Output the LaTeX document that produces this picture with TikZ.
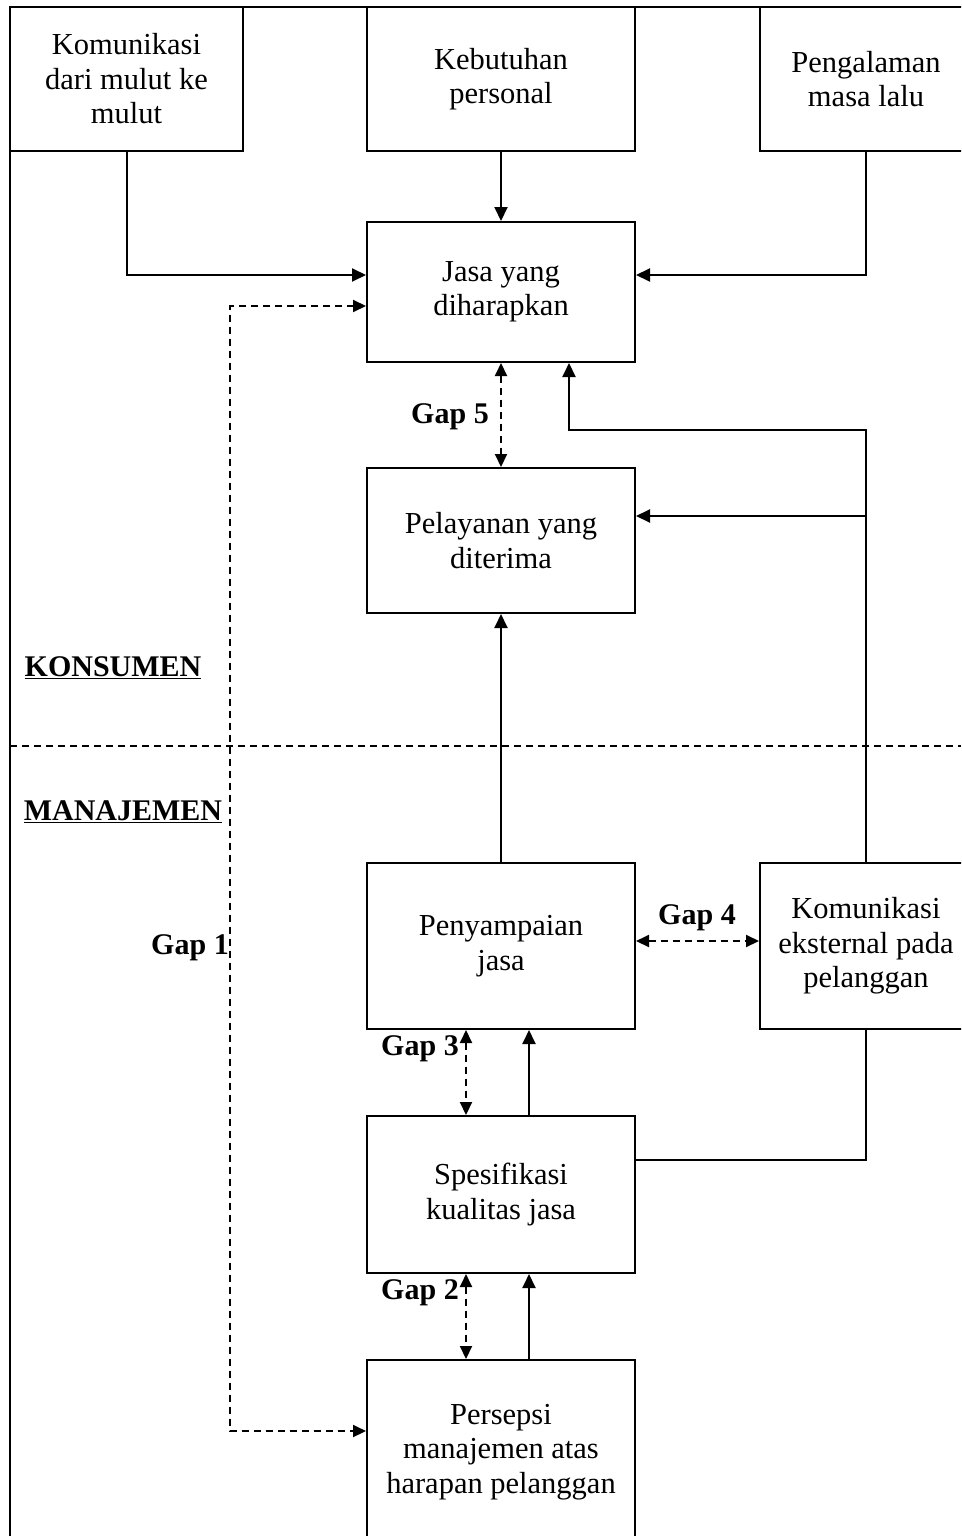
\documentclass[tikz,border=0pt]{standalone}
\usepackage{fontspec}
\setmainfont{Liberation Serif}
\usetikzlibrary{arrows.meta}
\tikzset{
  box/.style={draw, line width=2pt, rectangle, align=center, inner sep=0pt,
    font=\fontsize{30.5}{34.5}\selectfont},
  arr/.style={line width=2pt, -{Triangle[length=14pt,width=13pt]}},
  plain/.style={line width=2pt},
  darr/.style={line width=2pt, dash pattern=on 7pt off 5pt,
    {Triangle[length=13pt,width=12pt]}-{Triangle[length=13pt,width=12pt]}},
  gaplbl/.style={font=\fontsize{30}{34}\selectfont\bfseries, inner sep=0pt},
}
\begin{document}
\begin{tikzpicture}[x=1pt,y=-1pt]
\useasboundingbox (0,0) rectangle (961,1536);
\clip (0,0) rectangle (961,1536);
% frame
\draw[plain] (10,7) -- (961,7);
\draw[plain] (10,7) -- (10,1540);
% boxes
\node[box, minimum width=233pt, minimum height=144pt] (b1) at (126.5,79) {Komunikasi\\dari mulut ke\\mulut};
\node[box, minimum width=268pt, minimum height=144pt] (b2) at (501,79) {Kebutuhan\\personal};
\node[box, minimum width=212pt, minimum height=144pt] (b3) at (866,79) {Pengalaman\\masa lalu};
\node[box, minimum width=268pt, minimum height=140pt] (jasa) at (501,292) {Jasa yang\\diharapkan};
\node[box, minimum width=268pt, minimum height=145pt] (pel) at (501,540.5) {Pelayanan yang\\diterima};
\node[box, minimum width=268pt, minimum height=166pt] (peny) at (501,946) {Penyampaian\\jasa};
\node[box, minimum width=212pt, minimum height=166pt] (kom) at (866,946) {Komunikasi\\eksternal pada\\pelanggan};
\node[box, minimum width=268pt, minimum height=157pt] (spes) at (501,1194.5) {Spesifikasi\\kualitas jasa};
\node[box, minimum width=268pt, minimum height=184pt] (pers) at (501,1452) {Persepsi\\manajemen atas\\harapan pelanggan};
% divider
\draw[line width=2pt, dash pattern=on 7pt off 5pt] (10,746) -- (961,746);
% side labels
\node[gaplbl] (kons) at (113,668) {\underline{KONSUMEN}};
\node[gaplbl] (man) at (123,812) {\underline{MANAJEMEN}};
% connectors
\coordinate (g1) at (230,800);
\coordinate (c1) at (569,430);
\draw[arr] (b1.south) |- ([yshift=17pt]jasa.west);
\draw[arr] (b2.south) -- (jasa.north);
\draw[arr] (b3.south) |- ([yshift=17pt]jasa.east);
\draw[darr] ([yshift=-14pt]jasa.west) -| (g1) |- ([yshift=21pt]pers.west);
\draw[darr] (jasa.south) -- (pel.north);
\draw[arr] (kom.north) |- (c1) -- (c1 |- jasa.south);
\draw[arr] (kom.north |- 0,516) -- (pel.east |- 0,516);
\draw[arr] (peny.north) -- (pel.south);
\draw[darr] ([yshift=5pt]peny.east) -- ([yshift=5pt]kom.west);
\draw[darr] ([xshift=-35pt]peny.south) -- ([xshift=-35pt]spes.north);
\draw[arr] ([xshift=28pt]spes.north) -- ([xshift=28pt]peny.south);
\draw[plain] ([yshift=34.5pt]spes.east) -| (kom.south);
\draw[darr] ([xshift=-35pt]spes.south) -- ([xshift=-35pt]pers.north);
\draw[arr] ([xshift=28pt]pers.north) -- ([xshift=28pt]spes.south);
% gap labels
\node[gaplbl] (gap5) at (450,417) {Gap 5};
\node[gaplbl] (gap4) at (697,918) {Gap 4};
\node[gaplbl] (gap3) at (420,1049) {Gap 3};
\node[gaplbl] (gap2) at (420,1293) {Gap 2};
\node[gaplbl] (gap1) at (190,948) {Gap 1};
\end{tikzpicture}
\end{document}
